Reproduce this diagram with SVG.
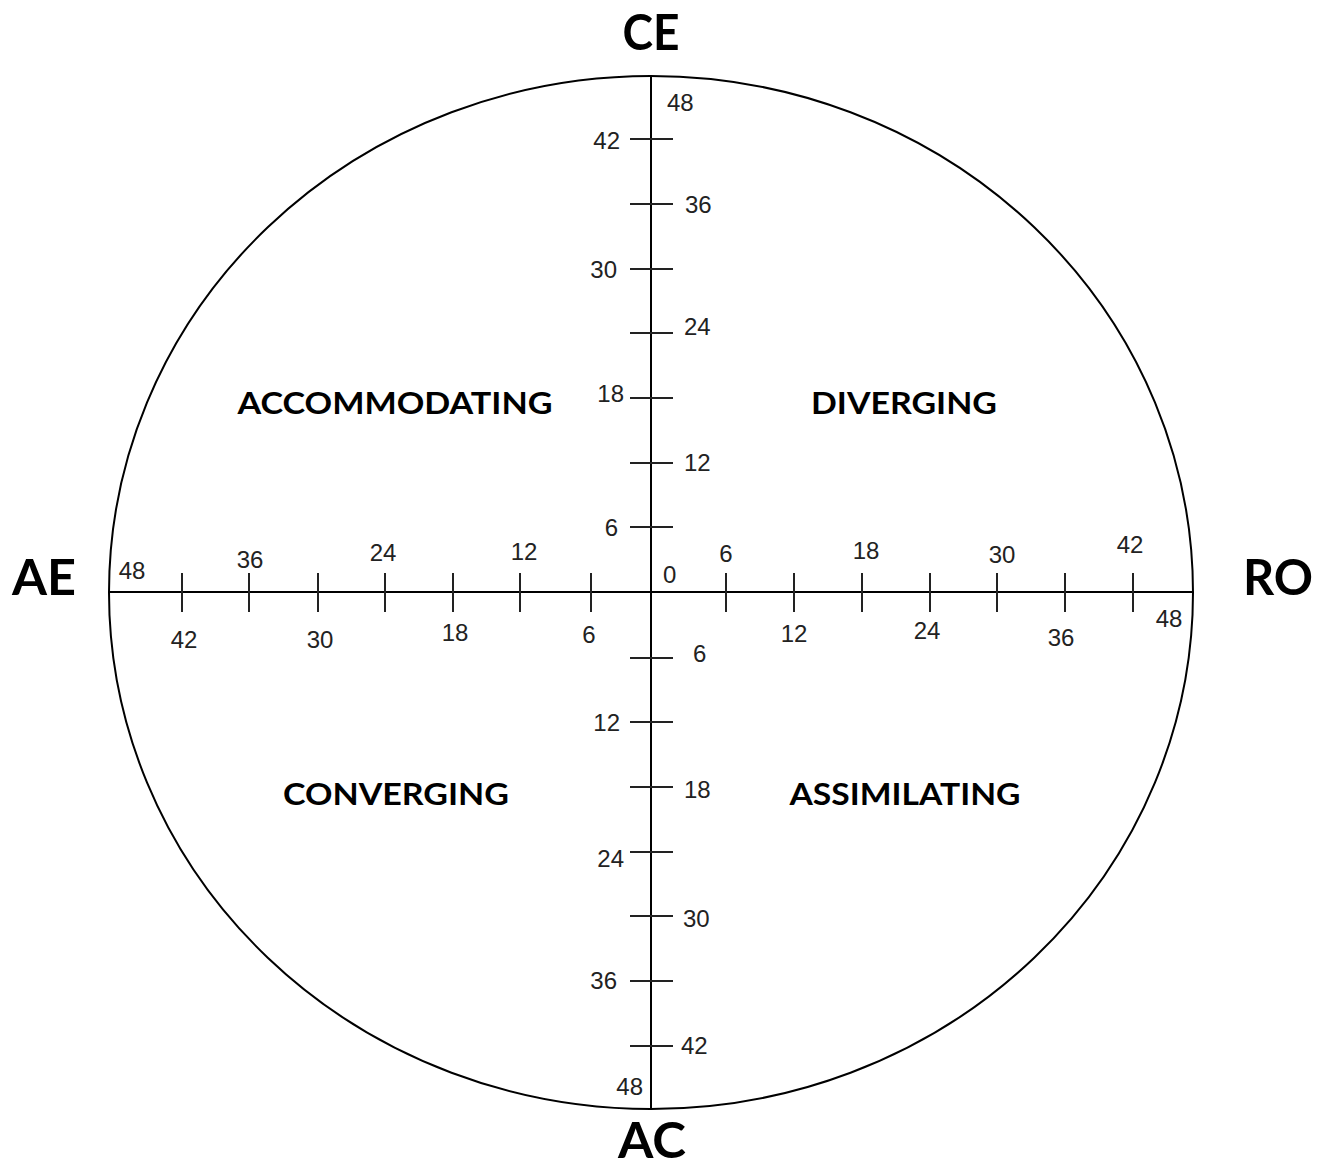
<svg xmlns="http://www.w3.org/2000/svg" width="1325" height="1169" viewBox="0 0 1325 1169">
<style>
.ln{stroke:#000;stroke-width:2;fill:none}
.tk{stroke:#222;stroke-width:2}
.num{font-family:"Liberation Sans",Arial,sans-serif;font-size:24px;fill:#222}
.big{font-family:Lato,"Open Sans","Liberation Sans",sans-serif;font-weight:bold;font-size:50px;fill:#000}
.q{font-family:Lato,"Open Sans","Liberation Sans",sans-serif;font-weight:bold;font-size:31px;fill:#000}
</style>
<rect width="1325" height="1169" fill="#fff"/>
<g id="frame">
<ellipse class="ln" cx="651" cy="592.5" rx="542" ry="516.5"/>
</g>
<g id="axes">
<line class="ln" x1="651" y1="76" x2="651" y2="1109"/>
<line class="ln" x1="109" y1="592" x2="1193" y2="592"/>
<g class="tk">
<line x1="630" y1="139" x2="673" y2="139"/>
<line x1="630" y1="204" x2="673" y2="204"/>
<line x1="630" y1="269" x2="673" y2="269"/>
<line x1="630" y1="333" x2="673" y2="333"/>
<line x1="630" y1="398" x2="673" y2="398"/>
<line x1="630" y1="463" x2="673" y2="463"/>
<line x1="630" y1="527" x2="673" y2="527"/>
<line x1="630" y1="658" x2="673" y2="658"/>
<line x1="630" y1="722" x2="673" y2="722"/>
<line x1="630" y1="787" x2="673" y2="787"/>
<line x1="630" y1="852" x2="673" y2="852"/>
<line x1="630" y1="916" x2="673" y2="916"/>
<line x1="630" y1="981" x2="673" y2="981"/>
<line x1="630" y1="1046" x2="673" y2="1046"/>
<line x1="182" y1="573" x2="182" y2="612"/>
<line x1="249" y1="573" x2="249" y2="612"/>
<line x1="318" y1="573" x2="318" y2="612"/>
<line x1="385" y1="573" x2="385" y2="612"/>
<line x1="453" y1="573" x2="453" y2="612"/>
<line x1="520" y1="573" x2="520" y2="612"/>
<line x1="591" y1="573" x2="591" y2="612"/>
<line x1="726" y1="573" x2="726" y2="612"/>
<line x1="794" y1="573" x2="794" y2="612"/>
<line x1="862" y1="573" x2="862" y2="612"/>
<line x1="930" y1="573" x2="930" y2="612"/>
<line x1="997" y1="573" x2="997" y2="612"/>
<line x1="1065" y1="573" x2="1065" y2="612"/>
<line x1="1133" y1="573" x2="1133" y2="612"/>
</g>
</g>
<g id="vlabels" class="num">
<text x="667" y="111">48</text>
<text x="620" y="149" text-anchor="end">42</text>
<text x="685" y="213">36</text>
<text x="617" y="278" text-anchor="end">30</text>
<text x="684" y="335">24</text>
<text x="624" y="402" text-anchor="end">18</text>
<text x="684" y="471">12</text>
<text x="618" y="536" text-anchor="end">6</text>
<text x="663" y="583">0</text>
<text x="693" y="662">6</text>
<text x="620" y="731" text-anchor="end">12</text>
<text x="684" y="798">18</text>
<text x="624" y="867" text-anchor="end">24</text>
<text x="683" y="927">30</text>
<text x="617" y="989" text-anchor="end">36</text>
<text x="681" y="1054">42</text>
<text x="643" y="1095" text-anchor="end">48</text>
</g>
<g id="hlabels" class="num" text-anchor="middle">
<text x="132" y="579">48</text>
<text x="184" y="648">42</text>
<text x="250" y="568">36</text>
<text x="320" y="648">30</text>
<text x="383" y="561">24</text>
<text x="455" y="641">18</text>
<text x="524" y="560">12</text>
<text x="589" y="643">6</text>
<text x="726" y="562">6</text>
<text x="794" y="642">12</text>
<text x="866" y="559">18</text>
<text x="927" y="639">24</text>
<text x="1002" y="563">30</text>
<text x="1061" y="646">36</text>
<text x="1130" y="553">42</text>
<text x="1169" y="627">48</text>
</g>
<g id="poles" class="big" text-anchor="middle">
<text x="651" y="50" textLength="57" lengthAdjust="spacingAndGlyphs">CE</text>
<text x="652" y="1158" textLength="68" lengthAdjust="spacingAndGlyphs">AC</text>
<text x="44" y="595" textLength="64" lengthAdjust="spacingAndGlyphs">AE</text>
<text x="1278" y="595" textLength="70" lengthAdjust="spacingAndGlyphs">RO</text>
</g>
<g id="quadrants" class="q" text-anchor="middle">
<text x="395" y="414" textLength="315" lengthAdjust="spacingAndGlyphs">ACCOMMODATING</text>
<text x="904" y="414" textLength="186" lengthAdjust="spacingAndGlyphs">DIVERGING</text>
<text x="396" y="805" textLength="226" lengthAdjust="spacingAndGlyphs">CONVERGING</text>
<text x="905" y="805" textLength="231" lengthAdjust="spacingAndGlyphs">ASSIMILATING</text>
</g>
</svg>
